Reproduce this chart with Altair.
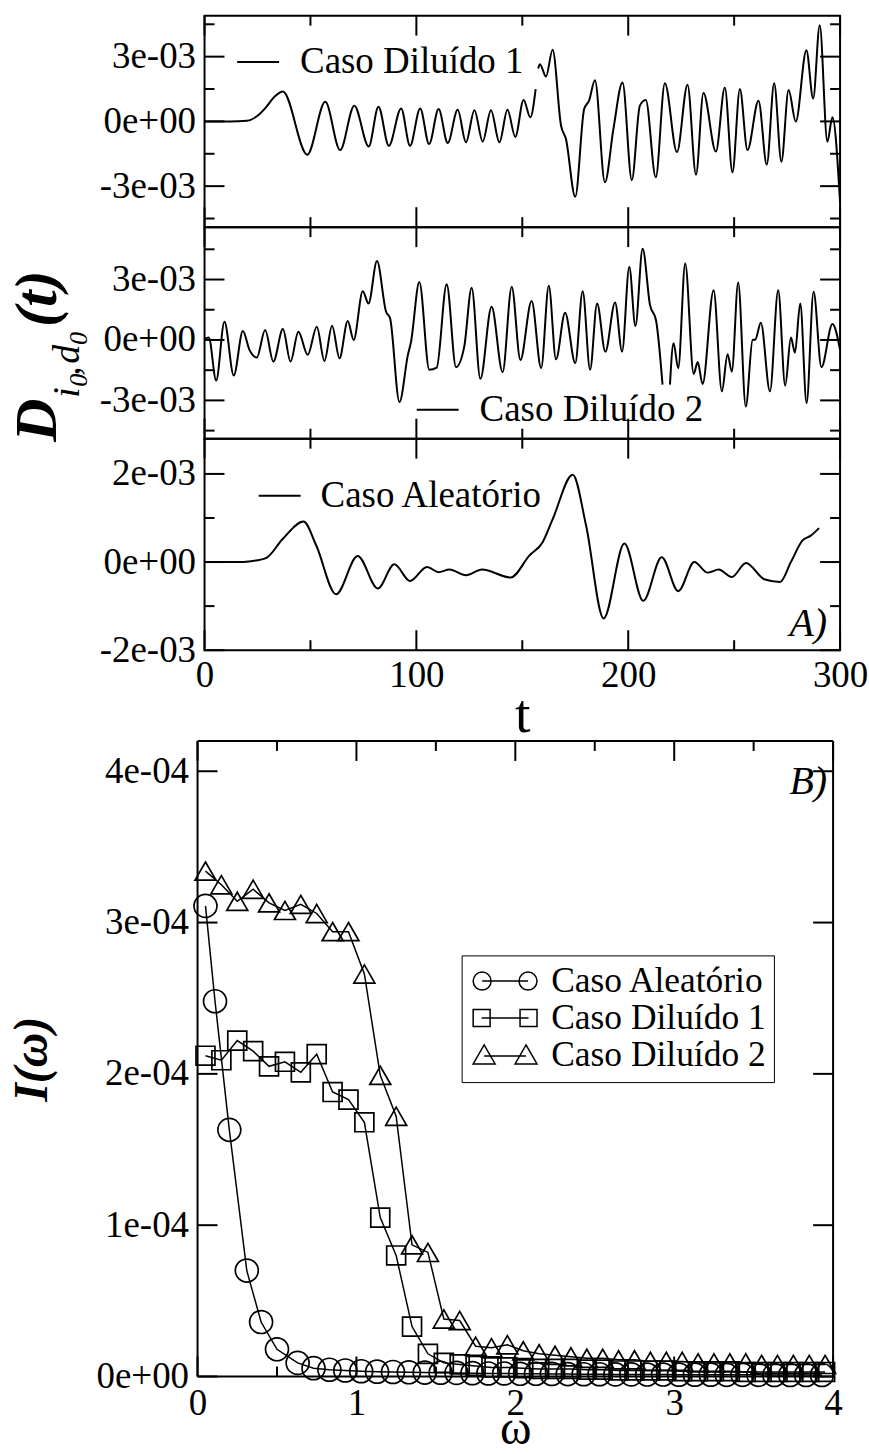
import altair as alt
import pandas as pd

FONT = "Liberation Serif"
LBL = 37          # tick label / legend font size

# ---------------- Panel A data: t and D(t) in units of 1e-3 ----------------
# Caso Diluído 1 (two segments, small gap near t=157)
d1_t_a = [0, 12, 20, 25, 29, 33, 37, 48.5, 57, 64, 70.7, 77.5, 82.1, 87, 92.8, 97, 101.8, 106,
          110.5, 114.8, 119.5, 123.4, 127.4, 131.3, 135.2, 139.2, 143, 146.7, 150.6, 153.8, 156.3]
d1_v_a = [0, 0, 0.03, 0.26, 0.65, 1.14, 1.39, -1.54, 0.91, -1.33, 0.73, -1.16, 0.68, -1.13, 0.6, -1.13,
          0.6, -1.05, 0.57, -1.0, 0.54, -0.97, 0.52, -0.94, 0.52, -0.97, 0.54, -0.72, 0.99, 0.19, 1.5]
d1_t_b = [157.5, 158.3, 161.2, 164.3, 168.3, 170.6, 175, 179.2, 181.5, 184.3, 189, 193, 197.3, 201.7,
          205.5, 208.3, 213, 217.3, 223, 228, 232, 235.5, 241.4, 245.6, 249.2, 252.7, 256.3, 261.5,
          265.4, 268.9, 272.3, 275.7, 279.1, 284.1, 287.3, 290.4, 294, 296.4, 300]
d1_v_b = [2.45, 2.65, 2.08, 3.32, -0.2, -0.82, -3.49, 0.57, 0.96, 1.91, -2.82, -0.36, 1.8, -2.72,
          0.73, 0.99, -2.59, 1.77, -1.43, 1.7, -2.47, 1.31, -1.4, 1.57, -2.36, 1.5, -1.33, 0.96,
          -2.0, 1.77, -1.87, 1.45, -0.01, 3.3, 1.06, 4.46, -0.94, 0.19, -3.75]

# Caso Diluído 2 (two segments, small gap near t=218)
d2_t_a = [0, 2, 5.5, 9.4, 13.8, 18.1, 21.2, 24.7, 28.6, 32.5, 37, 40.6, 44.3, 48.7, 53, 56.6, 60.2,
          63.7, 67.6, 70.4, 74.7, 77.4, 81.4, 85.7, 87.6, 92, 96, 97.5, 101.4, 106.1, 109.6, 114.3,
          118.7, 122.6, 126.1, 130.2, 135.5, 140.7, 145, 149.1, 154.4, 158.9, 162.5, 165.9, 170.2,
          175, 178.5, 182, 185.3, 189.2, 193.8, 197.1, 200.5, 203.4, 206.8, 210.3, 213.1, 216.2]
d2_v_a = [0.05, 0.12, -2.01, 0.91, -1.76, 0.44, -0.49, -0.87, 0.49, -1.07, 0.54, -1.07, 0.41, -0.74,
          0.66, -1.04, 0.71, -0.91, 0.94, 0.0, 2.42, 1.81, 3.92, 1.4, 1.07, -3.08, -0.74, -0.08, 2.88,
          -1.48, -1.37, 2.77, -1.35, -0.33, 2.59, -1.93, 1.65, -1.6, 2.64, -0.99, 1.93, -1.4, 2.69,
          -0.96, 1.35, -1.15, 2.42, -1.48, 1.81, -0.58, 1.86, -0.58, 3.63, 0.69, 4.53, 1.73, 0.99, -2.22]
d2_t_b = [219.7, 221.4, 223.6, 226.9, 230.9, 232.8, 235.1, 240.3, 244.2, 246.9, 248.9, 251.9, 255.5,
          258.7, 260, 262.6, 266.9, 270.8, 274.1, 276.8, 278.7, 281.2, 284.2, 287.5, 291.2, 296.4, 300]
d2_v_b = [-2.22, -0.16, -1.4, 3.79, -1.68, -1.1, -2.19, 2.47, -2.55, -0.71, -1.57, 2.85, -3.3,
          0.0, 0.02, 0.86, -2.55, 2.47, -2.27, 0.12, -0.63, 1.81, -3.13, 2.39, -1.35, 0.79, -0.49]

# Caso Aleatório
al_t = [0, 15, 22, 29, 37, 46.7, 52.7, 62.1, 72.3, 81.8, 89.6, 97, 105, 110.4, 115.6, 123.4, 131,
        144.5, 153.4, 159.6, 164.4, 173.8, 180.1, 188.4, 198.2, 207.1, 215.8, 223.6, 231.2, 237.5,
        242.7, 248.9, 255.6, 264.2, 271.7, 276.8, 282.3, 286.2, 290.1]
al_v = [0, 0, 0.02, 0.09, 0.53, 0.92, 0.38, -0.73, 0.14, -0.6, -0.05, -0.43, -0.11, -0.23, -0.17,
        -0.3, -0.17, -0.35, 0.15, 0.45, 0.98, 1.98, 0.83, -1.28, 0.42, -0.88, 0.11, -0.66, 0.0,
        -0.24, -0.17, -0.34, -0.02, -0.39, -0.45, 0.0, 0.49, 0.6, 0.77]

# ---------------- Panel B data: omega and I(omega) in units of 1e-4 ----------------
w_alea = [0.05, 0.11, 0.20, 0.31, 0.40, 0.50, 0.63, 0.73, 0.83, 0.93, 1.03, 1.13, 1.23, 1.33, 1.43,
          1.53, 1.63, 1.73, 1.83, 1.93, 2.03, 2.13, 2.23, 2.33, 2.43, 2.53, 2.63, 2.73, 2.83, 2.93,
          3.03, 3.13, 3.23, 3.33, 3.43, 3.53, 3.63, 3.73, 3.83, 3.93]
I_alea = [3.11, 2.48, 1.63, 0.70, 0.36, 0.18, 0.09, 0.055, 0.045, 0.04, 0.035, 0.032, 0.03, 0.028,
          0.026, 0.025, 0.024, 0.022, 0.02, 0.02, 0.018, 0.018, 0.017, 0.016, 0.015, 0.015, 0.014,
          0.014, 0.013, 0.013, 0.012, 0.012, 0.012, 0.011, 0.011, 0.011, 0.01, 0.01, 0.01, 0.01]
w_dil = [0.05, 0.15, 0.25, 0.35, 0.45, 0.55, 0.65, 0.75, 0.85, 0.95, 1.05, 1.15, 1.25, 1.35, 1.45,
         1.55, 1.65, 1.75, 1.85, 1.95, 2.05, 2.15, 2.25, 2.35, 2.45, 2.55, 2.65, 2.75, 2.85, 2.95,
         3.05, 3.15, 3.25, 3.35, 3.45, 3.55, 3.65, 3.75, 3.85, 3.95]
I_dil1 = [2.12, 2.09, 2.22, 2.15, 2.05, 2.08, 2.01, 2.13, 1.88, 1.83, 1.68, 1.05, 0.80, 0.33, 0.15,
          0.09, 0.08, 0.07, 0.06, 0.06, 0.055, 0.05, 0.05, 0.05, 0.045, 0.045, 0.04, 0.04, 0.04,
          0.04, 0.035, 0.035, 0.035, 0.035, 0.03, 0.03, 0.03, 0.03, 0.03, 0.03]
I_dil2 = [3.34, 3.25, 3.14, 3.22, 3.13, 3.08, 3.12, 3.06, 2.94, 2.94, 2.66, 1.99, 1.72, 0.87, 0.82,
          0.38, 0.37, 0.20, 0.19, 0.21, 0.17, 0.15, 0.14, 0.13, 0.12, 0.12, 0.11, 0.11, 0.10, 0.10,
          0.10, 0.09, 0.09, 0.09, 0.09, 0.08, 0.08, 0.08, 0.08, 0.08]

names_B = ["Caso Aleatório", "Caso Diluído 1", "Caso Diluído 2"]

# ---------------- helpers ----------------
W, H = 637, 212
WB, HB, TOPB = 630, 637, 91      # panel B plot size and blank band above it
HBT = HB + TOPB


def label_expr(vals, labels):
    parts = [f"abs(datum.value - ({v!r})) < 1e-9 ? '{lab}'" for v, lab in zip(vals, labels)]
    return " : ".join(parts) + " : ''"


def series_df(segments, name):
    rows = []
    for k, (ts, vs) in enumerate(segments):
        for t, v in zip(ts, vs):
            rows.append({"t": t, "v": v * 1e-3, "seg": k, "serie": name})
    return pd.DataFrame(rows)


RULE = dict(color="black", strokeWidth=2)


def txt(s, x, y, size, style="italic", weight="normal", align="left", angle=0):
    kw = dict(font=FONT, fontSize=size, fontStyle=style, fontWeight=weight, align=align,
              baseline="alphabetic", color="black")
    if angle:
        kw["angle"] = angle
    return alt.Chart(pd.DataFrame({"s": [s]})).mark_text(**kw).encode(
        text="s:N", x=alt.value(x), y=alt.value(y))


def panel(df, name, ydom, yvals, ylabs, yminor, leg, show_x, extra):
    xs = alt.Scale(domain=[0, 300], nice=False, zero=False)
    ys = alt.Scale(domain=ydom, nice=False, zero=False)
    if show_x:
        xaxis = alt.Axis(values=[0, 100, 200, 300], format="d", title="t", ticks=False, tickSize=0,
                         domain=False, grid=False, labelFlush=False, labelFontSize=LBL, labelPadding=7,
                         titleFontSize=56, titleFontWeight="normal", titlePadding=-5)
    else:
        xaxis = None
    yaxis = alt.Axis(values=yvals, labelExpr=label_expr(yvals, ylabs), title=None, ticks=False,
                     tickSize=0, domain=False, grid=False, labelFontSize=LBL, labelPadding=9,
                     labelOverlap=False)
    line = alt.Chart(df).mark_line(strokeWidth=2, interpolate="monotone").encode(
        x=alt.X("t:Q", scale=xs, axis=xaxis),
        y=alt.Y("v:Q", scale=ys, axis=yaxis),
        detail="seg:N",
        color=alt.Color("serie:N", scale=alt.Scale(domain=[name], range=["black"]),
                        legend=alt.Legend(title=None, orient="none", legendX=leg[0], legendY=leg[1],
                                          labelFont=FONT, labelFontSize=LBL, labelColor="black",
                                          labelLimit=600, symbolType="stroke", symbolSize=1764,
                                          symbolStrokeWidth=2, symbolStrokeColor="black",
                                          labelOffset=leg[2], padding=0)),
    )
    layers = [line]
    for vals, L in (([0, 100, 200, 300], 20), ([50, 150, 250], 10)):
        d = pd.DataFrame({"t": vals})
        layers.append(alt.Chart(d).mark_rule(**RULE).encode(
            x=alt.X("t:Q", scale=xs), y=alt.value(0), y2=alt.value(L)))
        layers.append(alt.Chart(d).mark_rule(**RULE).encode(
            x=alt.X("t:Q", scale=xs), y=alt.value(H), y2=alt.value(H - L)))
    for vals, L in ((yvals, 20), (yminor, 10)):
        d = pd.DataFrame({"v": vals})
        layers.append(alt.Chart(d).mark_rule(**RULE).encode(
            y=alt.Y("v:Q", scale=ys), x=alt.value(0), x2=alt.value(L)))
        layers.append(alt.Chart(d).mark_rule(**RULE).encode(
            y=alt.Y("v:Q", scale=ys), x=alt.value(W), x2=alt.value(W - L)))
    layers += extra
    return alt.layer(*layers).properties(width=W, height=H)


# ---------------- Panel A ----------------
df1 = series_df([(d1_t_a, d1_v_a), (d1_t_b, d1_v_b)], "Caso Diluído 1")
df2 = series_df([(d2_t_a, d2_v_a), (d2_t_b, d2_v_b)], "Caso Diluído 2")
df3 = series_df([(al_t, al_v)], "Caso Aleatório")

title_D = [
    txt("D", -149, 215, 60, weight="bold", angle=270),
    txt("i", -126, 171, 38, angle=270),
    txt("0", -118, 160, 26, angle=270),
    txt(",", -126, 149, 38, angle=270),
    txt("d", -126, 137, 38, angle=270),
    txt("0", -118, 118, 26, angle=270),
    txt("(t)", -149, 100, 60, weight="bold", angle=270),
]

p1 = panel(df1, "Caso Diluído 1", [-0.0049, 0.0049], [-0.003, 0.0, 0.003],
           ["-3e-03", "0e+00", "3e-03"], [-0.0045, -0.0015, 0.0015, 0.0045],
           (31.7, 24.5, 20), False, [])
p2 = panel(df2, "Caso Diluído 2", [-0.0049, 0.0056], [-0.003, 0.0, 0.003],
           ["-3e-03", "0e+00", "3e-03"], [-0.0045, -0.0015, 0.0015, 0.0045],
           (211.7, 161, 20), False, title_D)
p3 = panel(df3, "Caso Aleatório", [-0.002, 0.0028], [-0.002, 0.0, 0.002],
           ["-2e-03", "0e+00", "2e-03"], [-0.001, 0.001],
           (53.3, 35.3, 19), True, [txt("A)", 624, 198, 40, align="right")])

# ---------------- Panel B ----------------
xs2 = alt.Scale(domain=[0, 4], range=[-7, WB], nice=False, zero=False)
ys2 = alt.Scale(domain=[0, 4.2e-4], range=[HBT, TOPB], nice=False, zero=False)
xaxis2 = alt.Axis(values=[0, 1, 2, 3, 4], format="d", title="ω", ticks=False, tickSize=0,
                  domain=False, grid=False, labelFlush=False, labelFontSize=LBL, labelPadding=9,
                  titleFontSize=48, titleFontWeight="normal", titlePadding=-16)
yvals2 = [0.0, 1e-4, 2e-4, 3e-4, 4e-4]
yaxis2 = alt.Axis(values=yvals2, labelExpr=label_expr(yvals2, ["0e+00", "1e-04", "2e-04", "3e-04", "4e-04"]),
                  ticks=False, tickSize=0, domain=False, grid=False, labelFontSize=LBL, labelPadding=9,
                  offset=7, labelOverlap=False, title="I(ω)", titleFontSize=48, titleFontStyle="italic",
                  titleFontWeight="bold", titlePadding=40)

series_B = [(w_alea, I_alea, "circle", 529), (w_dil, I_dil1, "square", 361),
            (w_dil, I_dil2, "triangle-up", 441)]
layersB = []
for k, (ws, Is, shp, sz) in enumerate(series_B):
    d = pd.DataFrame({"w": ws, "I": [v * 1e-4 for v in Is]})
    if k == 0:
        enc = dict(x=alt.X("w:Q", scale=xs2, axis=xaxis2), y=alt.Y("I:Q", scale=ys2, axis=yaxis2))
    else:
        enc = dict(x=alt.X("w:Q", scale=xs2), y=alt.Y("I:Q", scale=ys2))
    layersB.append(alt.Chart(d).mark_line(color="black", strokeWidth=1.5).encode(**enc))
    layersB.append(alt.Chart(d).mark_point(shape=shp, size=sz, filled=False, color="black",
                                           strokeWidth=1.7, opacity=1).encode(
        x=alt.X("w:Q", scale=xs2), y=alt.Y("I:Q", scale=ys2)))

# legend symbols: marker - line - marker (custom paths, unit = 8.5 px)
u = 8.5
r, c = 9 / u, 23 / u
p_circ = (f"M{-c-r:.3f},0A{r:.3f},{r:.3f} 0 1,1 {-c+r:.3f},0A{r:.3f},{r:.3f} 0 1,1 {-c-r:.3f},0Z"
          f"M{-c:.3f},0L{c:.3f},0"
          f"M{c-r:.3f},0A{r:.3f},{r:.3f} 0 1,1 {c+r:.3f},0A{r:.3f},{r:.3f} 0 1,1 {c-r:.3f},0Z")
h, c2 = 8.5 / u, 23.5 / u
p_sq = (f"M{-c2-h:.3f},{-h:.3f}L{-c2+h:.3f},{-h:.3f}L{-c2+h:.3f},{h:.3f}L{-c2-h:.3f},{h:.3f}Z"
        f"M{-c2:.3f},0L{c2:.3f},0"
        f"M{c2-h:.3f},{-h:.3f}L{c2+h:.3f},{-h:.3f}L{c2+h:.3f},{h:.3f}L{c2-h:.3f},{h:.3f}Z")
c3, hw, ap, bs, ly = 21 / u, 11 / u, -10 / u, 9 / u, 1 / u
p_tri = (f"M{-c3:.3f},{ap:.3f}L{-c3+hw:.3f},{bs:.3f}L{-c3-hw:.3f},{bs:.3f}Z"
         f"M{-c3:.3f},{ly:.3f}L{c3:.3f},{ly:.3f}"
         f"M{c3:.3f},{ap:.3f}L{c3+hw:.3f},{bs:.3f}L{c3-hw:.3f},{bs:.3f}Z")

legend_layer = alt.Chart(pd.DataFrame({"serie": names_B})).mark_point(
    size=0, filled=False, color="black", strokeWidth=1.5, opacity=1).encode(
    shape=alt.Shape("serie:N", scale=alt.Scale(domain=names_B, range=[p_circ, p_sq, p_tri]),
                    legend=alt.Legend(title=None, orient="none", legendX=257.7, legendY=214.9 + TOPB,
                                      strokeColor="black", padding=8, rowPadding=0,
                                      labelFont=FONT, labelFontSize=35.5, labelColor="black",
                                      labelLimit=600, symbolSize=289, symbolOffset=17.8,
                                      labelOffset=28.5, symbolStrokeWidth=1.5,
                                      symbolStrokeColor="black", symbolFillColor="transparent")))
layersB.append(legend_layer)

# frame and inward ticks for panel B
for xv in (0, 4):
    layersB.append(alt.Chart(pd.DataFrame({"w": [xv]})).mark_rule(**RULE).encode(
        x=alt.X("w:Q", scale=xs2), y=alt.value(TOPB), y2=alt.value(HBT)))
for yv in (0.0, 4.2e-4):
    layersB.append(alt.Chart(pd.DataFrame({"I": [yv]})).mark_rule(**RULE).encode(
        y=alt.Y("I:Q", scale=ys2), x=alt.XDatum(0, scale=xs2), x2=alt.datum(4)))
for vals, L in (([0, 1, 2, 3, 4], 20), ([0.5, 1.5, 2.5, 3.5], 10)):
    d = pd.DataFrame({"w": vals})
    layersB.append(alt.Chart(d).mark_rule(**RULE).encode(
        x=alt.X("w:Q", scale=xs2), y=alt.value(TOPB), y2=alt.value(TOPB + L)))
    layersB.append(alt.Chart(d).mark_rule(**RULE).encode(
        x=alt.X("w:Q", scale=xs2), y=alt.value(HBT), y2=alt.value(HBT - L)))
d = pd.DataFrame({"I": yvals2})
layersB.append(alt.Chart(d).mark_rule(**RULE).encode(
    y=alt.Y("I:Q", scale=ys2), x=alt.XDatum(0, scale=xs2), x2=alt.value(13)))
layersB.append(alt.Chart(d).mark_rule(**RULE).encode(
    y=alt.Y("I:Q", scale=ys2), x=alt.XDatum(4, scale=xs2), x2=alt.value(WB - 20)))
layersB.append(txt("B)", 624, 53 + TOPB, 40, align="right"))

bottom = alt.layer(*layersB).properties(width=WB, height=HBT,
                                        view=alt.ViewBackground(stroke="transparent"))

chart = alt.vconcat(p1, p2, p3, bottom, spacing=0, bounds="flush").resolve_scale(
    x="independent", y="independent", color="independent", shape="independent"
).properties(
    padding={"left": 7, "top": 12, "right": 0, "bottom": 0}, background="white"
).configure_view(stroke="black", strokeWidth=2).configure_axis(
    labelFont=FONT, titleFont=FONT, labelColor="black", titleColor="black"
)

chart.save("out.html", embed_options={"renderer": "svg", "actions": False})
